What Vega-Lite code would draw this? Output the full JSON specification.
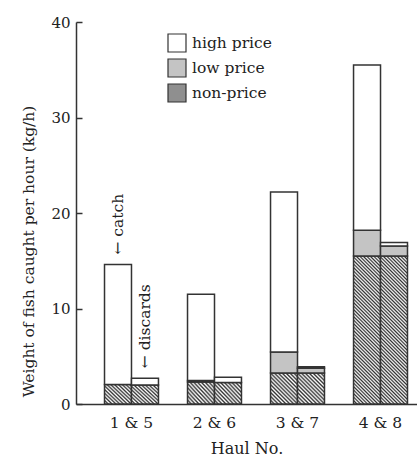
{
  "$schema": "https://vega.github.io/schema/vega-lite/v6.json",
  "width": 341,
  "height": 382,
  "autosize": {"type": "none"},
  "padding": {"left": 76, "top": 22, "right": 0, "bottom": 58},
  "background": "white",
  "config": {
    "view": {"stroke": null},
    "font": "DejaVu Serif",
    "axis": {"labelFont": "DejaVu Serif", "titleFont": "DejaVu Serif", "labelColor": "#222", "titleColor": "#222", "titleFontWeight": "normal", "domainColor": "#333", "tickColor": "#333"},
    "legend": {"labelFont": "DejaVu Serif", "titleFont": "DejaVu Serif"},
    "text": {"font": "DejaVu Serif"}
  },
  "data": {
    "values": [
      {"haul": "1 & 5", "type": "catch", "category": "non-price", "value": 2.05},
      {"haul": "1 & 5", "type": "catch", "category": "high price", "value": 12.55},
      {"haul": "1 & 5", "type": "discards", "category": "non-price", "value": 2.0},
      {"haul": "1 & 5", "type": "discards", "category": "high price", "value": 0.7},
      {"haul": "2 & 6", "type": "catch", "category": "non-price", "value": 2.3},
      {"haul": "2 & 6", "type": "catch", "category": "low price", "value": 0.15},
      {"haul": "2 & 6", "type": "catch", "category": "high price", "value": 9.05},
      {"haul": "2 & 6", "type": "discards", "category": "non-price", "value": 2.25},
      {"haul": "2 & 6", "type": "discards", "category": "high price", "value": 0.55},
      {"haul": "3 & 7", "type": "catch", "category": "non-price", "value": 3.25},
      {"haul": "3 & 7", "type": "catch", "category": "low price", "value": 2.2},
      {"haul": "3 & 7", "type": "catch", "category": "high price", "value": 16.75},
      {"haul": "3 & 7", "type": "discards", "category": "non-price", "value": 3.25},
      {"haul": "3 & 7", "type": "discards", "category": "low price", "value": 0.5},
      {"haul": "3 & 7", "type": "discards", "category": "high price", "value": 0.15},
      {"haul": "4 & 8", "type": "catch", "category": "non-price", "value": 15.5},
      {"haul": "4 & 8", "type": "catch", "category": "low price", "value": 2.7},
      {"haul": "4 & 8", "type": "catch", "category": "high price", "value": 17.3},
      {"haul": "4 & 8", "type": "discards", "category": "non-price", "value": 15.5},
      {"haul": "4 & 8", "type": "discards", "category": "low price", "value": 1.05},
      {"haul": "4 & 8", "type": "discards", "category": "high price", "value": 0.35}
    ]
  },
  "encoding": {
    "x": {
      "field": "haul", "type": "nominal",
      "scale": {"paddingInner": 0.35, "paddingOuter": 0.229, "align": 0.75},
      "axis": {"title": "Haul No.", "labelAngle": 0, "ticks": false, "labelFont": "DejaVu Serif", "labelFontSize": 15.5, "labelPadding": 11, "titleFont": "DejaVu Serif", "titleFontSize": 16, "titleBaseline": "middle", "titleY": 44, "domainWidth": 1.5}
    },
    "xOffset": {"field": "type", "type": "nominal", "scale": {"paddingInner": 0, "paddingOuter": 0}}
  },
  "layer": [
    {
      "mark": {"type": "bar", "stroke": "#333", "strokeWidth": 1.5},
      "encoding": {
        "y": {
          "field": "value", "type": "quantitative", "stack": "zero",
          "scale": {"domain": [0, 40], "nice": false},
          "axis": {"values": [0, 10, 20, 30, 40], "grid": false, "tickSize": -6, "tickWidth": 1.5, "domainWidth": 1.5, "labelFont": "DejaVu Serif", "labelFontSize": 15, "labelPadding": 12, "title": "Weight of fish caught per hour (kg/h)", "titleFont": "DejaVu Serif", "titleFontSize": 15.5, "titleBaseline": "middle", "titleAlign": "center", "titleAngle": 270, "titleX": -48, "titleY": 229}
        },
        "order": {"field": "category", "sort": "descending"},
        "fill": {
          "condition": [
            {"test": "datum.category === 'non-price' && datum.value > 10", "value": {"gradient": "linear", "x1": 0, "y1": 1, "x2": 0.2088, "y2": -0.1443, "stops": [
              {"offset": 0, "color": "#333"}, {"offset": 0.01, "color": "#fff"}, {"offset": 0.02, "color": "#333"}, {"offset": 0.03, "color": "#fff"}, {"offset": 0.04, "color": "#333"}, {"offset": 0.05, "color": "#fff"}, {"offset": 0.06, "color": "#333"}, {"offset": 0.07, "color": "#fff"}, {"offset": 0.08, "color": "#333"}, {"offset": 0.09, "color": "#fff"},
              {"offset": 0.10, "color": "#333"}, {"offset": 0.11, "color": "#fff"}, {"offset": 0.12, "color": "#333"}, {"offset": 0.13, "color": "#fff"}, {"offset": 0.14, "color": "#333"}, {"offset": 0.15, "color": "#fff"}, {"offset": 0.16, "color": "#333"}, {"offset": 0.17, "color": "#fff"}, {"offset": 0.18, "color": "#333"}, {"offset": 0.19, "color": "#fff"},
              {"offset": 0.20, "color": "#333"}, {"offset": 0.21, "color": "#fff"}, {"offset": 0.22, "color": "#333"}, {"offset": 0.23, "color": "#fff"}, {"offset": 0.24, "color": "#333"}, {"offset": 0.25, "color": "#fff"}, {"offset": 0.26, "color": "#333"}, {"offset": 0.27, "color": "#fff"}, {"offset": 0.28, "color": "#333"}, {"offset": 0.29, "color": "#fff"},
              {"offset": 0.30, "color": "#333"}, {"offset": 0.31, "color": "#fff"}, {"offset": 0.32, "color": "#333"}, {"offset": 0.33, "color": "#fff"}, {"offset": 0.34, "color": "#333"}, {"offset": 0.35, "color": "#fff"}, {"offset": 0.36, "color": "#333"}, {"offset": 0.37, "color": "#fff"}, {"offset": 0.38, "color": "#333"}, {"offset": 0.39, "color": "#fff"},
              {"offset": 0.40, "color": "#333"}, {"offset": 0.41, "color": "#fff"}, {"offset": 0.42, "color": "#333"}, {"offset": 0.43, "color": "#fff"}, {"offset": 0.44, "color": "#333"}, {"offset": 0.45, "color": "#fff"}, {"offset": 0.46, "color": "#333"}, {"offset": 0.47, "color": "#fff"}, {"offset": 0.48, "color": "#333"}, {"offset": 0.49, "color": "#fff"},
              {"offset": 0.50, "color": "#333"}, {"offset": 0.51, "color": "#fff"}, {"offset": 0.52, "color": "#333"}, {"offset": 0.53, "color": "#fff"}, {"offset": 0.54, "color": "#333"}, {"offset": 0.55, "color": "#fff"}, {"offset": 0.56, "color": "#333"}, {"offset": 0.57, "color": "#fff"}, {"offset": 0.58, "color": "#333"}, {"offset": 0.59, "color": "#fff"},
              {"offset": 0.60, "color": "#333"}, {"offset": 0.61, "color": "#fff"}, {"offset": 0.62, "color": "#333"}, {"offset": 0.63, "color": "#fff"}, {"offset": 0.64, "color": "#333"}, {"offset": 0.65, "color": "#fff"}, {"offset": 0.66, "color": "#333"}, {"offset": 0.67, "color": "#fff"}, {"offset": 0.68, "color": "#333"}, {"offset": 0.69, "color": "#fff"},
              {"offset": 0.70, "color": "#333"}, {"offset": 0.71, "color": "#fff"}, {"offset": 0.72, "color": "#333"}, {"offset": 0.73, "color": "#fff"}, {"offset": 0.74, "color": "#333"}, {"offset": 0.75, "color": "#fff"}, {"offset": 0.76, "color": "#333"}, {"offset": 0.77, "color": "#fff"}, {"offset": 0.78, "color": "#333"}, {"offset": 0.79, "color": "#fff"},
              {"offset": 0.80, "color": "#333"}, {"offset": 0.81, "color": "#fff"}, {"offset": 0.82, "color": "#333"}, {"offset": 0.83, "color": "#fff"}, {"offset": 0.84, "color": "#333"}, {"offset": 0.85, "color": "#fff"}, {"offset": 0.86, "color": "#333"}, {"offset": 0.87, "color": "#fff"}, {"offset": 0.88, "color": "#333"}, {"offset": 0.89, "color": "#fff"},
              {"offset": 0.90, "color": "#333"}, {"offset": 0.91, "color": "#fff"}, {"offset": 0.92, "color": "#333"}, {"offset": 0.93, "color": "#fff"}, {"offset": 0.94, "color": "#333"}, {"offset": 0.95, "color": "#fff"}, {"offset": 0.96, "color": "#333"}, {"offset": 0.97, "color": "#fff"}, {"offset": 0.98, "color": "#333"}, {"offset": 0.99, "color": "#fff"},
              {"offset": 1, "color": "#333"}
            ]}},
            {"test": "datum.category === 'non-price' && datum.value > 2.8", "value": {"gradient": "linear", "x1": 0, "y1": 1, "x2": 0.9266, "y2": -0.0639, "stops": [
              {"offset": 0, "color": "#333"}, {"offset": 0.0333, "color": "#fff"}, {"offset": 0.0667, "color": "#333"}, {"offset": 0.1, "color": "#fff"}, {"offset": 0.1333, "color": "#333"}, {"offset": 0.1667, "color": "#fff"}, {"offset": 0.2, "color": "#333"}, {"offset": 0.2333, "color": "#fff"}, {"offset": 0.2667, "color": "#333"}, {"offset": 0.3, "color": "#fff"},
              {"offset": 0.3333, "color": "#333"}, {"offset": 0.3667, "color": "#fff"}, {"offset": 0.4, "color": "#333"}, {"offset": 0.4333, "color": "#fff"}, {"offset": 0.4667, "color": "#333"}, {"offset": 0.5, "color": "#fff"}, {"offset": 0.5333, "color": "#333"}, {"offset": 0.5667, "color": "#fff"}, {"offset": 0.6, "color": "#333"}, {"offset": 0.6333, "color": "#fff"},
              {"offset": 0.6667, "color": "#333"}, {"offset": 0.7, "color": "#fff"}, {"offset": 0.7333, "color": "#333"}, {"offset": 0.7667, "color": "#fff"}, {"offset": 0.8, "color": "#333"}, {"offset": 0.8333, "color": "#fff"}, {"offset": 0.8667, "color": "#333"}, {"offset": 0.9, "color": "#fff"}, {"offset": 0.9333, "color": "#333"}, {"offset": 0.9667, "color": "#fff"},
              {"offset": 1, "color": "#333"}
            ]}},
            {"test": "datum.category === 'non-price'", "value": {"gradient": "linear", "x1": 0, "y1": 1, "x2": 1.116, "y2": 0.1525, "stops": [
              {"offset": 0, "color": "#333"}, {"offset": 0.04, "color": "#fff"}, {"offset": 0.08, "color": "#333"}, {"offset": 0.12, "color": "#fff"}, {"offset": 0.16, "color": "#333"}, {"offset": 0.2, "color": "#fff"}, {"offset": 0.24, "color": "#333"}, {"offset": 0.28, "color": "#fff"}, {"offset": 0.32, "color": "#333"}, {"offset": 0.36, "color": "#fff"},
              {"offset": 0.4, "color": "#333"}, {"offset": 0.44, "color": "#fff"}, {"offset": 0.48, "color": "#333"}, {"offset": 0.52, "color": "#fff"}, {"offset": 0.56, "color": "#333"}, {"offset": 0.6, "color": "#fff"}, {"offset": 0.64, "color": "#333"}, {"offset": 0.68, "color": "#fff"}, {"offset": 0.72, "color": "#333"}, {"offset": 0.76, "color": "#fff"},
              {"offset": 0.8, "color": "#333"}, {"offset": 0.84, "color": "#fff"}, {"offset": 0.88, "color": "#333"}, {"offset": 0.92, "color": "#fff"}, {"offset": 0.96, "color": "#333"}, {"offset": 1, "color": "#fff"}
            ]}}
          ],
          "field": "category", "type": "nominal",
          "scale": {
            "domain": ["high price", "low price", "non-price"],
            "range": ["#ffffff", "#c4c4c4", "#8f8f8f"]
          },
          "legend": {
            "title": null, "orient": "none", "legendX": 91, "legendY": 11,
            "symbolType": "square", "symbolSize": 324, "symbolStrokeColor": "#333", "symbolStrokeWidth": 1.2, "symbolOpacity": 1,
            "labelFont": "DejaVu Serif", "labelFontSize": 15.5, "labelColor": "#222", "labelOffset": 5, "rowPadding": 1
          }
        }
      }
    },
    {
      "transform": [
        {"filter": "datum.haul === '1 & 5'"},
        {"aggregate": [{"op": "sum", "field": "value", "as": "total"}], "groupby": ["haul", "type"]}
      ],
      "mark": {"type": "text", "angle": 270, "align": "left", "baseline": "middle", "dx": 10, "font": "DejaVu Serif", "fontSize": 15.5, "color": "#222"},
      "encoding": {
        "y": {"field": "total", "type": "quantitative"},
        "text": {"condition": {"test": "datum.type === 'catch'", "value": "← catch"}, "value": "← discards"}
      }
    }
  ]
}
